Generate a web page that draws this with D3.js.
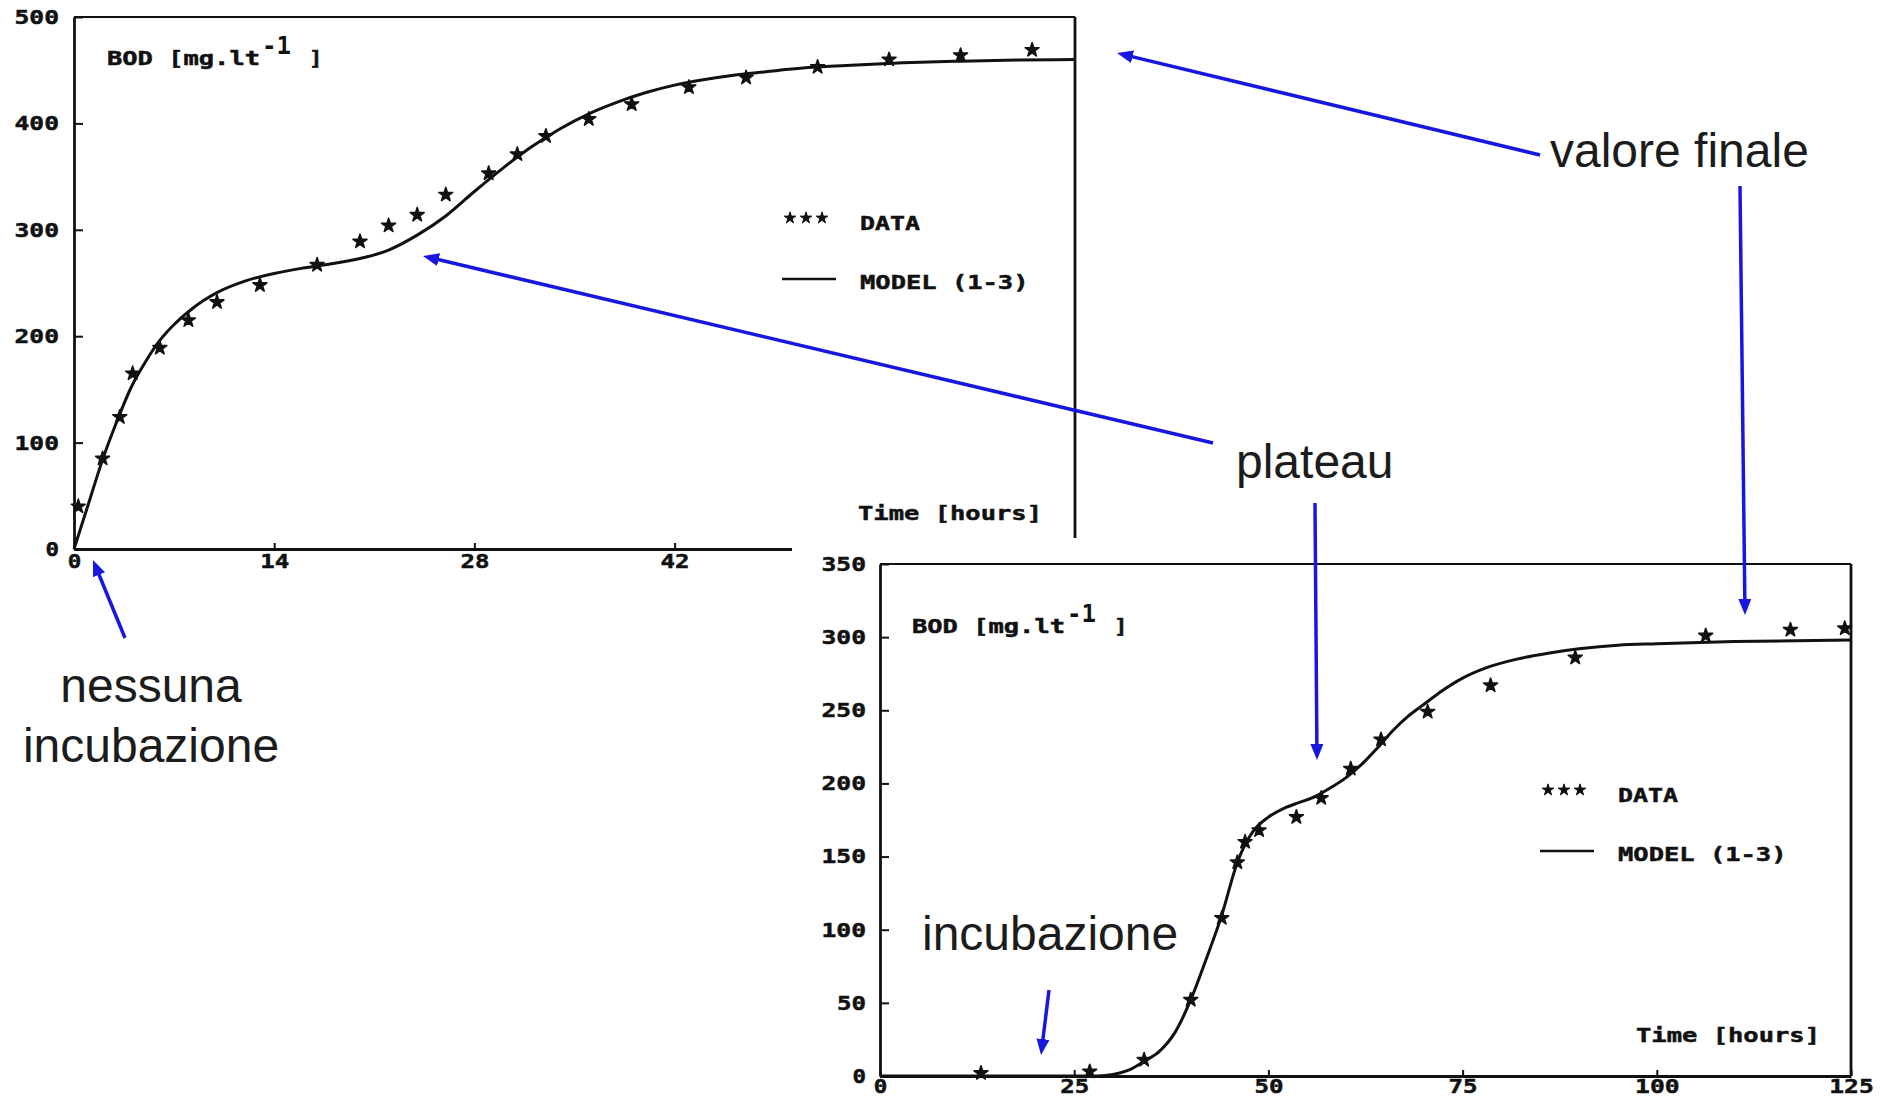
<!DOCTYPE html>
<html>
<head>
<meta charset="utf-8">
<script src="https://cdn.jsdelivr.net/npm/d3@7"></script>
<style>
  html, body { margin: 0; padding: 0; background: #fff; }
  svg { display: block; }
</style>
</head>
<body>
<div id="chart"></div>
<script>
// BOD curves, values

// top-left panel: no incubation
const bod1Hours = [0.3, 2, 3.2, 4.1, 6, 8, 10, 13, 17, 20, 22, 24, 26, 29, 31, 33, 36, 39, 43, 47, 52, 57, 62, 67];
const bod1Data  = [40, 85, 124, 165, 189, 215, 232, 248, 267, 289, 304, 314, 333, 353, 371, 388, 404, 418, 434, 443, 453, 460, 464, 469];
const model1Hours = [0, 1, 2, 3, 4, 5, 6, 7, 8, 9, 10, 12, 14, 16, 18, 20, 22, 24, 26, 28, 30, 32, 34, 36, 38, 40, 42, 44, 46, 48, 50, 54, 58, 62, 66, 70];
const model1Bod   = [0, 42, 84, 120, 152, 176, 196, 211, 223, 233, 241, 252, 259, 264, 268, 273, 281, 295, 313, 336, 358, 378, 395, 409, 420, 429, 436, 441, 445, 448, 451, 454.5, 457, 458.5, 459.5, 460];
// only the ticks left of the pasted second plot are visible
const xTicks1 = [0, 14, 28, 42];
const yTicks1 = [0, 100, 200, 300, 400, 500];

// bottom-right panel: with incubation
const bod2Hours = [13, 27, 34, 40, 44, 46, 47, 48.8, 53.6, 56.8, 60.6, 64.5, 70.5, 78.6, 89.5, 106.3, 117.2, 124.2];
const bod2Data  = [2, 3, 11, 52, 108, 146, 160, 168, 177, 190, 210, 230, 249, 267, 286, 301, 305, 306];
const model2Hours = [0, 20, 28, 30, 32, 34, 36, 38, 40, 42, 44, 46, 48, 50, 52, 54, 56, 58, 60, 62, 64, 66, 68, 70, 72, 75, 78, 82, 86, 90, 95, 100, 110, 125];
const model2Bod   = [0, 0, 0, 1, 4, 10, 17, 30, 52, 80, 110, 146, 167, 177, 183, 187, 191, 197, 204, 213, 224, 236, 246, 254, 262, 272, 279, 285, 289, 292, 294.5, 295.5, 297, 298];
const xTicks2 = [0, 25, 50, 75, 100, 125];
const yTicks2 = [0, 50, 100, 150, 200, 250, 300, 350];

const width = 1885, height = 1097;
const ink = '#111';
const blue = '#1717e0';
const monoFont = '"DejaVu Sans Mono", "Liberation Mono", monospace';
const sansFont = '"Liberation Sans", Arial, sans-serif';
const charW = 15.5; // plotter glyphs are wide: stretch mono text to this pitch

const svg = d3.select('#chart').append('svg')
  .attr('width', width)
  .attr('height', height);

svg.append('rect').attr('width', width).attr('height', height).attr('fill', '#fff');

// old plotter look: wide bold monospace
function mono(sel, size = 20) {
  sel.attr('font-family', monoFont)
    .attr('font-weight', 'bold')
    .attr('font-size', size)
    .attr('fill', ink)
    .attr('stroke', ink).attr('stroke-width', 0.5);
  sel.each(function () {
    const n = this.textContent.length;
    if (n > 0) {
      d3.select(this)
        .attr('textLength', n * charW - 2)
        .attr('lengthAdjust', 'spacingAndGlyphs');
    }
  });
  return sel;
}

function monoLabel(g, x, y, str) {
  return mono(g.append('text').attr('x', x).attr('y', y).text(str));
}

function drawPanel(g, p) {
  const x = d3.scaleLinear().domain(p.xDomain).range([p.left, p.right]);
  const y = d3.scaleLinear().domain(p.yDomain).range([p.bottom, p.top]);

  // frame: top and right
  g.append('line')
    .attr('x1', x(p.xDomain[0])).attr('x2', x(p.xDomain[1]))
    .attr('y1', y(p.yDomain[1])).attr('y2', y(p.yDomain[1]))
    .attr('stroke', ink).attr('stroke-width', 2.2);
  g.append('line')
    .attr('x1', x(p.xDomain[1])).attr('x2', x(p.xDomain[1]))
    .attr('y1', y(p.yDomain[1])).attr('y2', y(p.yDomain[0]))
    .attr('stroke', ink).attr('stroke-width', 2.8);

  // axes, ticks pointing inward
  const xAxis = g.append('g')
    .attr('transform', `translate(0,${p.bottom})`)
    .call(d3.axisBottom(x).tickValues(p.xTicks).tickSize(-6).tickSizeOuter(0).tickPadding(p.xPad));
  const yAxis = g.append('g')
    .attr('transform', `translate(${p.left},0)`)
    .call(d3.axisLeft(y).tickValues(p.yTicks).tickSize(-9).tickSizeOuter(0).tickPadding(p.yPad));

  [xAxis, yAxis].forEach(a => {
    a.select('.domain').attr('stroke', ink).attr('stroke-width', 2.8);
    a.selectAll('.tick line').attr('stroke', ink).attr('stroke-width', 2);
    mono(a.selectAll('.tick text'));
  });

  // fitted model
  const line = d3.line()
    .x((d, i) => x(p.modelX[i]))
    .y(d => y(d))
    .curve(d3.curveMonotoneX);
  g.append('path')
    .datum(p.modelY)
    .attr('d', line)
    .attr('fill', 'none')
    .attr('stroke', ink)
    .attr('stroke-width', 3);

  // measured points
  const star = d3.symbol().type(d3.symbolStar).size(60);
  g.append('g').selectAll('path')
    .data(p.dataY)
    .join('path')
    .attr('transform', (d, i) => `translate(${x(p.dataX[i])},${y(d)})`)
    .attr('d', star)
    .attr('fill', ink)
    .attr('stroke', ink).attr('stroke-width', 1.6)
    .attr('stroke-linejoin', 'round');

  // y label with superscript
  const [bx, by] = p.bodAt;
  monoLabel(g, bx, by, 'BOD [mg.lt');
  g.append('text')
    .attr('x', bx + 155).attr('y', by - 11)
    .attr('font-family', monoFont).attr('font-weight', 'bold')
    .attr('font-size', 24).attr('fill', ink)
    .text('-1');
  monoLabel(g, bx + 202, by, ']');

  // x label
  monoLabel(g, p.timeAt[0], p.timeAt[1], 'Time [hours]');

  // legend
  const lg = g.append('g').attr('transform', `translate(${p.legendAt[0]},${p.legendAt[1]})`);
  const legendStar = d3.symbol().type(d3.symbolStar).size(42);
  lg.selectAll('path.ls')
    .data([0, 1, 2])
    .join('path')
    .attr('class', 'ls')
    .attr('transform', d => `translate(${8 + d * 16},-6)`)
    .attr('d', legendStar)
    .attr('fill', ink)
    .attr('stroke', ink).attr('stroke-width', 1);
  monoLabel(lg, 78, 6, 'DATA');
  lg.append('line')
    .attr('x1', 0).attr('x2', 54)
    .attr('y1', 55).attr('y2', 55)
    .attr('stroke', ink).attr('stroke-width', 2.6);
  monoLabel(lg, 78, 65, 'MODEL (1-3)');
}

const panel1 = svg.append('g');
drawPanel(panel1, {
  xDomain: [0, 70], yDomain: [0, 500],
  left: 74, right: 1075, top: 17, bottom: 549,
  xTicks: xTicks1, yTicks: yTicks1, xPad: 5, yPad: 15,
  modelX: model1Hours, modelY: model1Bod,
  dataX: bod1Hours, dataY: bod1Data,
  bodAt: [107, 65], timeAt: [858, 520], legendAt: [782, 224]
});

// the second plot is pasted over the corner of the first
svg.append('rect')
  .attr('x', 792).attr('y', 538)
  .attr('width', width - 792).attr('height', height - 538)
  .attr('fill', '#fff');

const panel2 = svg.append('g');
drawPanel(panel2, {
  xDomain: [0, 125], yDomain: [0, 350],
  left: 880, right: 1851, top: 564, bottom: 1076,
  xTicks: xTicks2, yTicks: yTicks2, xPad: 3, yPad: 14,
  modelX: model2Hours, modelY: model2Bod,
  dataX: bod2Hours, dataY: bod2Data,
  bodAt: [912, 633], timeAt: [1636, 1042], legendAt: [1540, 796]
});

// annotations (overlay, page coordinates)
const notes = [
  { lines: ['valore finale'], x: 1550, y: 167, anchor: 'start' },
  { lines: ['plateau'], x: 1236, y: 478, anchor: 'start' },
  { lines: ['nessuna', 'incubazione'], x: 151, y: 702, anchor: 'middle' },
  { lines: ['incubazione'], x: 922, y: 950, anchor: 'start' }
];
const arrows = [
  { from: [1540, 155], to: [1117, 53] },
  { from: [1740, 186], to: [1745, 615] },
  { from: [1213, 443], to: [423, 256] },
  { from: [1315, 503], to: [1317, 760] },
  { from: [125, 638], to: [93, 560] },
  { from: [1049, 990], to: [1041, 1055] }
];

svg.append('defs').append('marker')
  .attr('id', 'head')
  .attr('viewBox', '0 0 16 13')
  .attr('refX', 6).attr('refY', 6.5)
  .attr('markerWidth', 16).attr('markerHeight', 13)
  .attr('markerUnits', 'userSpaceOnUse')
  .attr('orient', 'auto')
  .append('path')
  .attr('d', 'M0,0 L16,6.5 L0,13 Z')
  .attr('fill', blue);

const ann = svg.append('g');
arrows.forEach(a => {
  // stop the shaft short so the head ends on the target point
  const dx = a.to[0] - a.from[0], dy = a.to[1] - a.from[1];
  const len = Math.hypot(dx, dy);
  const k = (len - 10) / len;
  ann.append('line')
    .attr('x1', a.from[0]).attr('y1', a.from[1])
    .attr('x2', a.from[0] + dx * k).attr('y2', a.from[1] + dy * k)
    .attr('stroke', blue).attr('stroke-width', 3.5)
    .attr('marker-end', 'url(#head)');
});

notes.forEach(n => {
  const t = ann.append('text')
    .attr('x', n.x).attr('y', n.y)
    .attr('text-anchor', n.anchor)
    .attr('font-family', sansFont)
    .attr('font-size', 48)
    .attr('fill', '#1c1c1c');
  n.lines.forEach((s, i) => {
    t.append('tspan').attr('x', n.x).attr('dy', i === 0 ? 0 : 60).text(s);
  });
});
</script>
</body>
</html>
